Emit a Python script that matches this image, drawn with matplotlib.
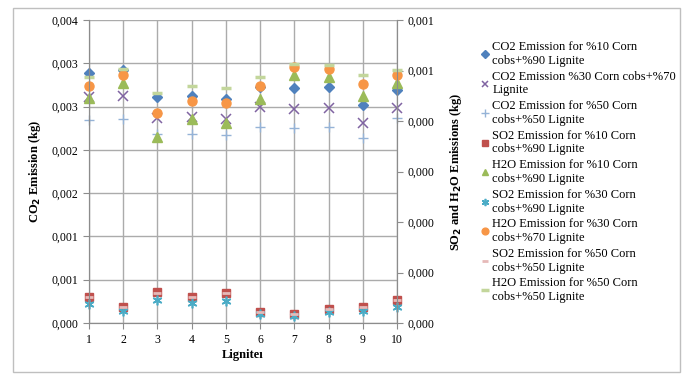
import matplotlib.pyplot as plt
from matplotlib.ticker import FuncFormatter, MultipleLocator
from matplotlib.patches import Rectangle
from decimal import Decimal, ROUND_HALF_UP

plt.rcParams['font.family'] = ['Liberation Serif', 'DejaVu Serif']

lignite = [1, 2, 3, 4, 5, 6, 7, 8, 9, 10]

# CO2 emissions (left axis, kg)
co2_10 = [0.002891, 0.00292, 0.002614, 0.00262, 0.00259, 0.00273, 0.00271, 0.00273, 0.002522, 0.00269]
co2_30 = [0.002614, 0.002622, 0.002371, 0.002383, 0.002356, 0.002492, 0.002475, 0.002483, 0.002314, 0.002483]
co2_50 = [0.002345, 0.002353, 0.00218, 0.00218, 0.002168, 0.002268, 0.002256, 0.002268, 0.00214, 0.002368]

# SO2 and H2O emissions (right axis, kg)
so2_10 = [0.0000509, 0.0000323, 0.0000608, 0.0000521, 0.00006, 0.0000218, 0.0000172, 0.0000283, 0.0000323, 0.0000455]
h2o_10 = [0.000445, 0.000475, 0.000369, 0.000404, 0.000397, 0.000444, 0.000492, 0.000488, 0.00045, 0.000475]
so2_30 = [0.0000376, 0.0000238, 0.0000455, 0.000039, 0.000043, 0.0000172, 0.0000139, 0.0000212, 0.0000238, 0.0000323]
h2o_30 = [0.000469, 0.000492, 0.000415, 0.00044, 0.000435, 0.000469, 0.000506, 0.000502, 0.000474, 0.000491]
so2_50 = [0.0000505, 0.000032, 0.00006, 0.0000515, 0.0000595, 0.0000215, 0.000017, 0.000028, 0.000032, 0.000045]
h2o_50 = [0.000487, 0.000503, 0.000455, 0.000469, 0.000465, 0.000488, 0.000512, 0.000511, 0.000492, 0.000501]

labels = [
    "CO2 Emission for %10 Corn\ncobs+%90 Lignite",
    "CO2 Emission %30 Corn cobs+%70\nLignite",
    "CO2 Emission for %50 Corn\ncobs+%50 Lignite",
    "SO2 Emission for %10 Corn\ncobs+%90 Lignite",
    "H2O Emission for %10 Corn\ncobs+%90 Lignite",
    "SO2 Emission for %30 Corn\ncobs+%90 Lignite",
    "H2O Emission for %30 Corn\ncobs+%70 Lignite",
    "SO2 Emission for %50 Corn\ncobs+%50 Lignite",
    "H2O Emission for %50 Corn\ncobs+%50 Lignite",
]


def comma3(v, pos):
    d = Decimal(str(round(v, 7))).quantize(Decimal("0.001"), rounding=ROUND_HALF_UP)
    return f"{d:.3f}".replace(".", ",")


fig = plt.figure(figsize=(6.86, 3.74), dpi=100)
fig.patches.append(Rectangle((13 / 686, 0.005), 667 / 686, 1 - 8 / 374 - 0.005, transform=fig.transFigure,
                             fill=False, edgecolor='#BFBFBF', linewidth=1))
ax = fig.add_axes([89 / 686, 51 / 374, 308 / 686, 303 / 374])
ax2 = ax.twinx()

kw = dict(linestyle='none', clip_on=False)
h = []
h += ax.plot(lignite, co2_10, marker='D', ms=5, color='#4F81BD', label=labels[0], **kw)
h += ax.plot(lignite, co2_30, marker='x', ms=6.5, mew=1.1, color='#8064A2', label=labels[1], **kw)
h += ax.plot(lignite, co2_50, marker='+', ms=7, mew=1, color='#95B3D7', label=labels[2], **kw)
h += ax2.plot(lignite, so2_10, marker='s', ms=6, color='#C0504D', label=labels[3], **kw)
h += ax2.plot(lignite, h2o_10, marker='^', ms=6.5, color='#9BBB59', label=labels[4], **kw)
h += ax2.plot(lignite, so2_30, marker=(6, 2, 0), ms=7, mew=1.2, color='#4BACC6', label=labels[5], **kw)
h += ax2.plot(lignite, h2o_30, marker='o', ms=6.5, color='#F79646', label=labels[6], **kw)
h += ax2.plot(lignite, so2_50, marker='_', ms=6, mew=2, color='#E6B9B8', label=labels[7], **kw)
h += ax2.plot(lignite, h2o_50, marker='_', ms=7, mew=2.5, color='#C3D69B', label=labels[8], **kw)
ax.set_zorder(ax2.get_zorder() - 1)
ax2.patch.set_visible(False)

ax.set_xlim(1, 10)
ax.set_xticks(lignite)
ax.set_ylim(0, 0.0035)
ax.yaxis.set_major_locator(MultipleLocator(0.0005))
ax.yaxis.set_major_formatter(FuncFormatter(comma3))
ax2.set_ylim(0, 0.0006)
ax2.yaxis.set_major_locator(MultipleLocator(0.0001))
ax2.yaxis.set_major_formatter(FuncFormatter(comma3))

ax.grid(True, color='#ABABAB', linewidth=1)
ax.set_axisbelow(True)
for a in (ax, ax2):
    for s in a.spines.values():
        s.set_color('#8C8C8C')
    a.spines['top'].set_visible(False)
    a.tick_params(colors='#8C8C8C', labelcolor='black', labelsize=8.5, length=4)
ax.tick_params(axis='x', pad=4)

ax.set_xlabel("Lignite\u0131", fontsize=9, fontweight='bold', labelpad=2)
ax.set_ylabel("CO$_\\mathbf{2}$ Emission (kg)", fontsize=9, fontweight='bold', labelpad=6)
ax2.set_ylabel("SO$_\\mathbf{2}$ and H$_\\mathbf{2}$O Emissions (kg)", fontsize=9, fontweight='bold', labelpad=10)

fig.legend(handles=h, loc='upper left', bbox_to_anchor=(476 / 686, 1 - 36 / 374), frameon=False,
           fontsize=9, handlelength=0.6, handletextpad=0.3, labelspacing=0.3, borderaxespad=0,
           markerscale=0.75)

fig.savefig("out.png", dpi=100)
